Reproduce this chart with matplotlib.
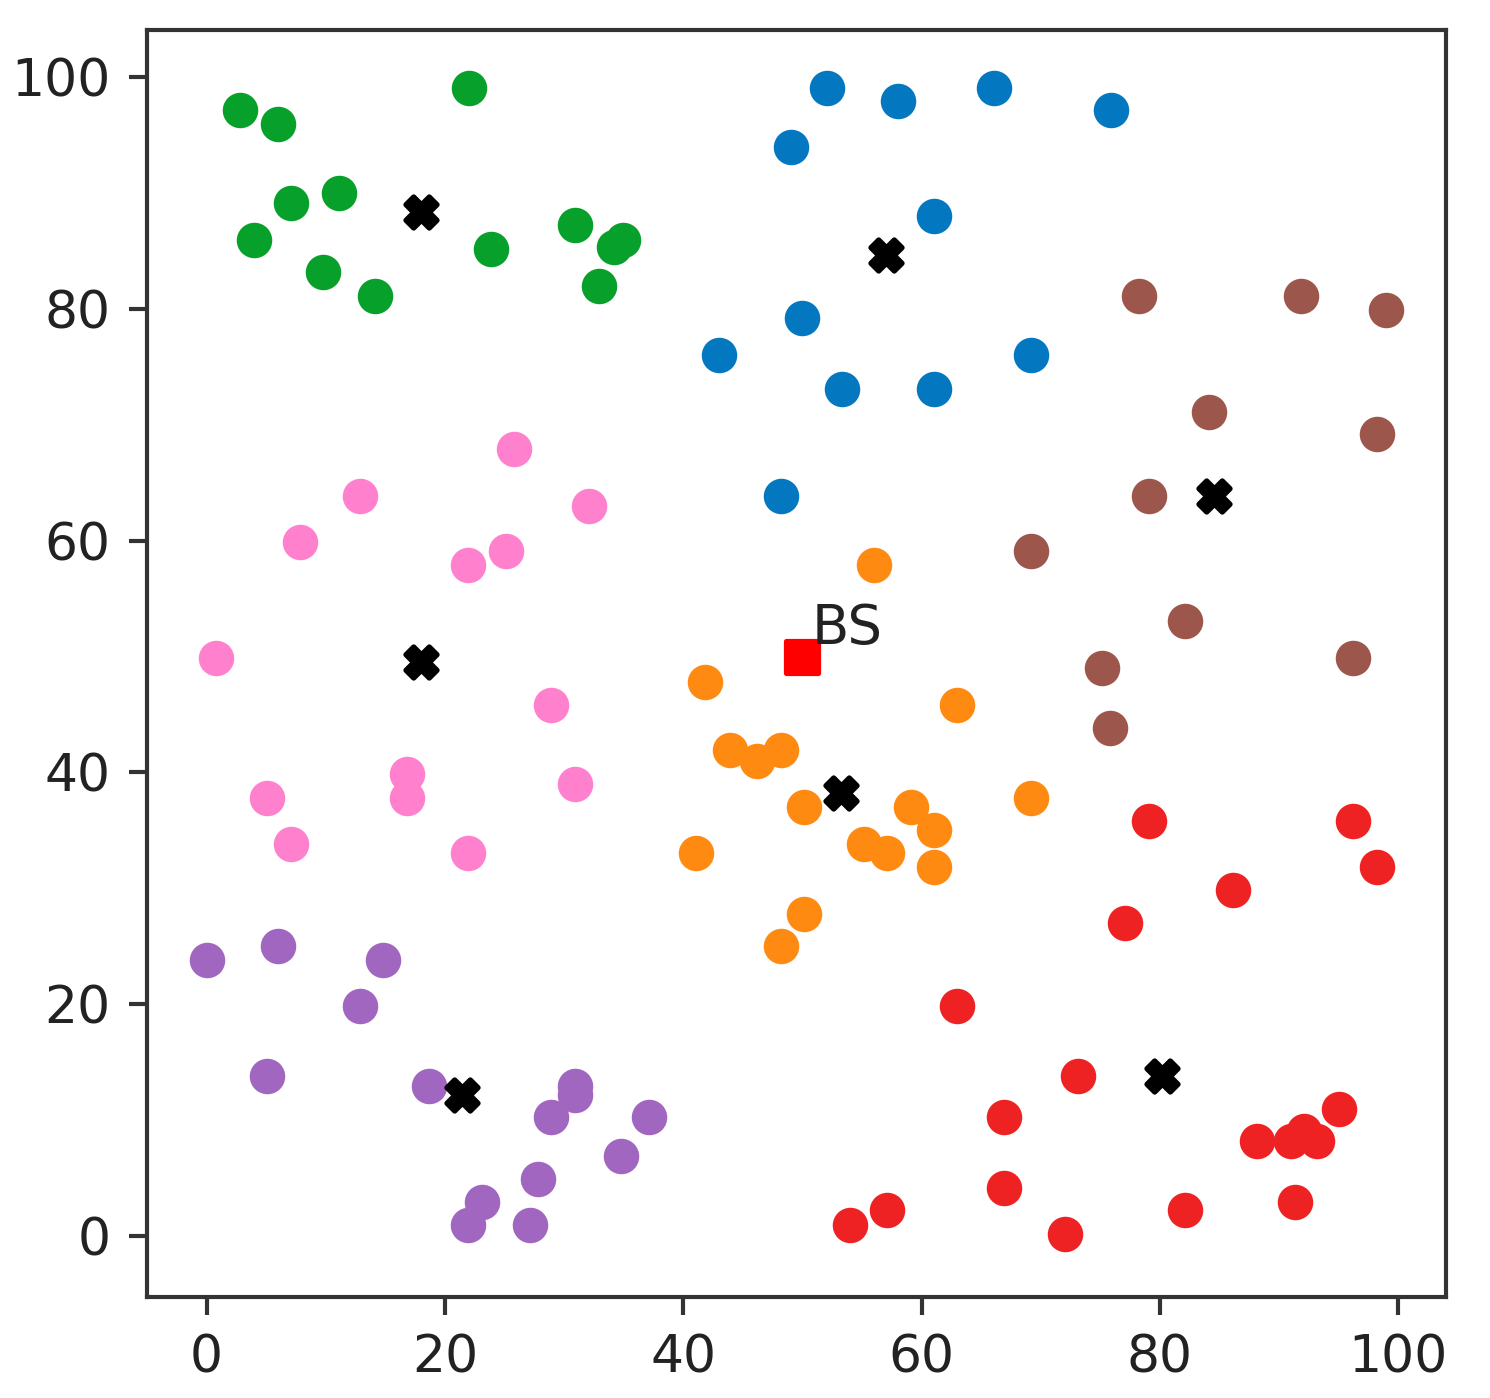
"""Clustered sensor nodes with cluster heads and a base station."""

import matplotlib

matplotlib.use("Agg")
import matplotlib.pyplot as plt

# Node positions per cluster.
green_x = [2.8, 6.0, 22.0, 7.1, 11.1, 4.0, 9.8, 14.1, 23.9, 30.9, 34.2, 34.9, 32.9]
green_y = [97.2, 96.0, 99.1, 89.2, 90.0, 86.0, 83.2, 81.1, 85.2, 87.3, 85.4, 86.0, 82.0]

blue_x = [52.1, 58.0, 66.1, 75.9, 49.0, 61.0, 43.0, 50.0, 53.3, 61.0, 69.2, 48.2]
blue_y = [99.1, 98.0, 99.1, 97.2, 94.0, 88.0, 76.0, 79.2, 73.1, 73.1, 76.0, 63.9]

brown_x = [78.2, 91.8, 99.0, 84.1, 98.2, 79.1, 69.2, 82.1, 75.1, 96.2, 75.8]
brown_y = [81.1, 81.1, 79.9, 71.1, 69.2, 63.9, 59.1, 53.1, 49.0, 49.9, 43.8]

pink_x = [25.8, 12.9, 32.1, 7.8, 21.9, 25.1, 0.8, 28.9, 16.8, 16.8, 30.9, 5.1, 7.1, 21.9]
pink_y = [67.9, 63.9, 63.0, 59.9, 57.9, 59.1, 49.9, 45.8, 39.9, 37.8, 39.0, 37.8, 33.8, 33.0]

purple_x = [0.0, 6.0, 14.8, 12.9, 5.1, 18.7, 30.9, 30.9, 28.9, 37.1, 34.8, 27.8, 23.1, 21.9, 27.1]
purple_y = [23.8, 25.0, 23.8, 19.8, 13.8, 12.9, 12.9, 12.1, 10.2, 10.2, 6.9, 4.9, 2.9, 0.95, 0.95]

orange_x = [56.0, 41.8, 63.0, 43.9, 46.2, 48.2, 50.1, 59.1, 61.0, 55.2, 57.1, 61.0, 69.2, 41.1, 50.1, 48.2]
orange_y = [57.9, 47.8, 45.8, 41.9, 41.0, 41.9, 37.0, 37.0, 35.0, 33.8, 33.0, 31.8, 37.8, 33.0, 27.8, 25.0]

red_x = [79.1, 96.2, 98.2, 86.1, 77.1, 63.0, 73.1, 66.9, 95.0, 88.1, 91.0, 92.1, 93.2,
         66.9, 91.3, 54.0, 57.1, 72.0, 82.1]
red_y = [35.8, 35.8, 31.8, 29.8, 27.0, 19.8, 13.8, 10.2, 10.9, 8.2, 8.2, 9.0, 8.2,
         4.1, 2.9, 0.95, 2.2, 0.1, 2.2]

# Cluster heads
head_x = [18.0, 57.0, 84.5, 18.0, 53.2, 80.2, 21.4]
head_y = [88.4, 84.7, 63.9, 49.5, 38.2, 13.8, 12.1]

# Base station
bs_x, bs_y = 50.0, 50.0

clusters = [
    (blue_x, blue_y, "#0377bf"),
    (orange_x, orange_y, "#ff8a12"),
    (green_x, green_y, "#06a02a"),
    (red_x, red_y, "#ee2222"),
    (purple_x, purple_y, "#a066c0"),
    (brown_x, brown_y, "#9c564c"),
    (pink_x, pink_y, "#ff80cc"),
]

DPI = 374
fig = plt.figure(figsize=(1490 / DPI, 1398 / DPI), dpi=DPI)
ax = fig.add_axes([147 / 1490, 101 / 1398, 1299 / 1490, 1267 / 1398])

for xs, ys, col in clusters:
    ax.scatter(xs, ys, s=34, color=col)

ax.scatter(head_x, head_y, s=36, marker="X", color="black")
ax.scatter([bs_x], [bs_y], s=40, marker="s", color="red")
ax.text(bs_x + 0.8, bs_y + 1.1, "BS", fontsize=10.5, color="#222222")

ax.set_xlim(-5.0, 104.0)
ax.set_ylim(-5.3, 104.1)
ax.set_xticks([0, 20, 40, 60, 80, 100])
ax.set_yticks([0, 20, 40, 60, 80, 100])
ax.tick_params(colors="#333333", labelcolor="#222222")
for sp in ax.spines.values():
    sp.set_color("#333333")

fig.savefig("out.png", dpi=DPI)
